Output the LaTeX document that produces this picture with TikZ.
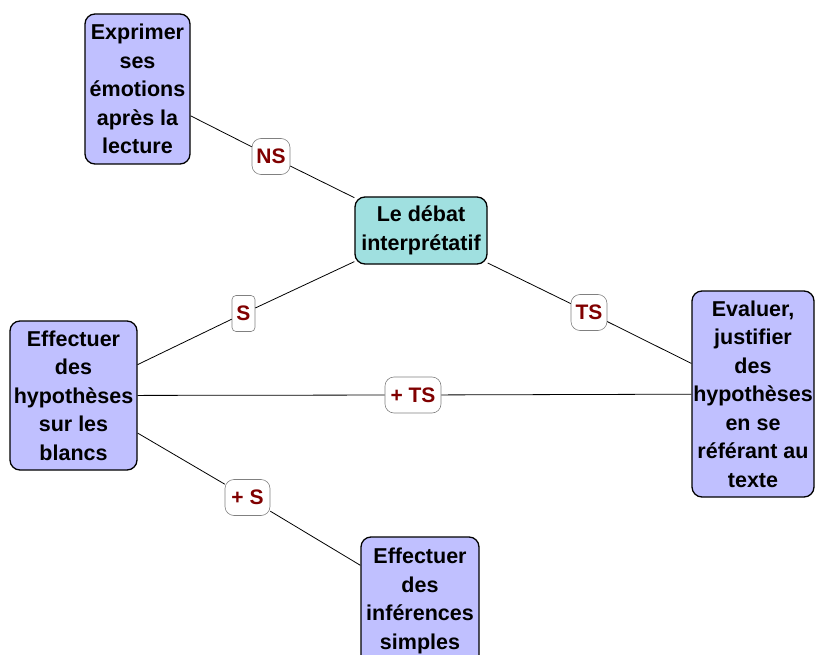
\documentclass[tikz,border=0pt]{standalone}
\usepackage{fontspec}
\setmainfont{Liberation Sans}
\definecolor{boxfill}{RGB}{192,192,255}
\definecolor{centerfill}{RGB}{160,224,224}
\definecolor{labred}{RGB}{128,0,0}
\definecolor{labgray}{RGB}{128,128,128}
\begin{document}
\begin{tikzpicture}[x=1pt,y=-1pt,
  box/.style={draw=black,line width=1.3pt,rounded corners=10pt,fill=boxfill,align=center,
    font=\fontsize{21.5}{28.5}\selectfont\bfseries,inner sep=0pt},
  lab/.style={draw=labgray,line width=0.6pt,rounded corners=9pt,fill=white,text=labred,
    font=\fontsize{21}{24}\selectfont\bfseries,minimum height=36pt,inner xsep=3pt,inner ysep=0pt},
  link/.style={draw=black,line width=0.8pt}]
\useasboundingbox (0,0) rectangle (816,655);
\node[box,minimum width=105pt,minimum height=150pt] (ex) at (137.5,89) {Exprimer\\ses\\émotions\\après la\\lecture};
\node[box,fill=centerfill,minimum width=132pt,minimum height=67pt] (deb) at (421,230.5) {Le débat\\interprétatif};
\node[box,minimum width=127pt,minimum height=149pt] (hyp) at (73.5,395.5) {Effectuer\\des\\hypothèses\\sur les\\blancs};
\node[box,minimum width=122pt,minimum height=206pt] (ev) at (753,394) {Evaluer,\\justifier\\des\\hypothèses\\en se\\référant au\\texte};
\node[box,minimum width=118pt,minimum height=128pt] (inf) at (420,601) {Effectuer\\des\\inférences\\simples};
\node[lab,minimum width=38pt] (ns) at (271,156.5) {NS};
\node[lab,minimum width=23pt,rounded corners=4pt] (s) at (243.5,313.5) {S};
\node[lab,minimum width=36pt] (ts) at (589,312.5) {TS};
\node[lab,minimum width=56pt] (pts) at (413,395) {+ TS};
\node[lab,minimum width=45pt] (ps) at (247.5,497.5) {+ S};
\draw[link] (ex) -- (ns) -- (deb);
\draw[link] (deb) -- (s) -- (hyp);
\draw[link] (deb) -- (ts) -- (ev);
\draw[link] (hyp) -- (pts) -- (ev);
\draw[link] (hyp) -- (ps) -- (inf);
\end{tikzpicture}
\end{document}
